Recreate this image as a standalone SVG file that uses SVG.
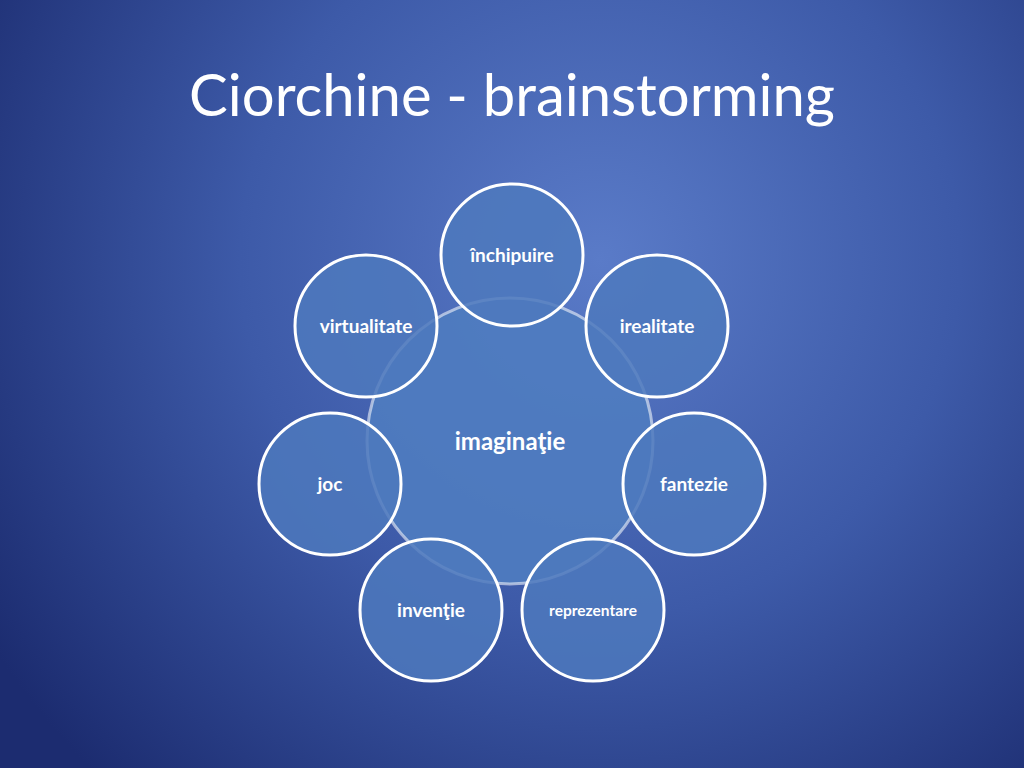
<svg xmlns="http://www.w3.org/2000/svg" width="1024" height="768" viewBox="0 0 1024 768">
<defs>
<radialGradient id="bg" cx="600" cy="260" r="720" gradientUnits="userSpaceOnUse">
<stop offset="0" stop-color="#5a7bc8"/>
<stop offset="0.5" stop-color="#3d5aa8"/>
<stop offset="1" stop-color="#1c2c70"/>
</radialGradient>
<style>
.c{fill:#4d79bd;fill-opacity:0.85;stroke:#ffffff;stroke-width:3}
.m{fill:#4f7cc0;fill-opacity:0.9;stroke:#ffffff;stroke-opacity:0.55;stroke-width:3}
.t{font-family:Lato,"Open Sans","Liberation Sans",sans-serif;font-weight:bold;fill:#ffffff;text-anchor:middle}
</style>
</defs>
<rect width="1024" height="768" fill="url(#bg)"/>
<text x="512" y="116" font-family="Lato,'Open Sans','Liberation Sans',sans-serif" font-size="58" fill="#ffffff" text-anchor="middle">Ciorchine - brainstorming</text>
<g id="center"><circle class="m" cx="510" cy="441" r="143"/><text class="t" x="510" y="450" font-size="24">imaginaţie</text></g>
<g id="inchipuire"><circle class="c" cx="512" cy="255" r="71"/><text class="t" x="512" y="262" font-size="19">închipuire</text></g>
<g id="irealitate"><circle class="c" cx="657" cy="326" r="71"/><text class="t" x="657" y="333" font-size="19">irealitate</text></g>
<g id="fantezie"><circle class="c" cx="694" cy="484" r="71"/><text class="t" x="694" y="491" font-size="19">fantezie</text></g>
<g id="reprezentare"><circle class="c" cx="593" cy="610" r="71"/><text class="t" x="593" y="616" font-size="15.5">reprezentare</text></g>
<g id="inventie"><circle class="c" cx="431" cy="610" r="71"/><text class="t" x="431" y="617" font-size="19">invenţie</text></g>
<g id="joc"><circle class="c" cx="330" cy="484" r="71"/><text class="t" x="330" y="491" font-size="19">joc</text></g>
<g id="virtualitate"><circle class="c" cx="366" cy="326" r="71"/><text class="t" x="366" y="333" font-size="19">virtualitate</text></g>
</svg>
